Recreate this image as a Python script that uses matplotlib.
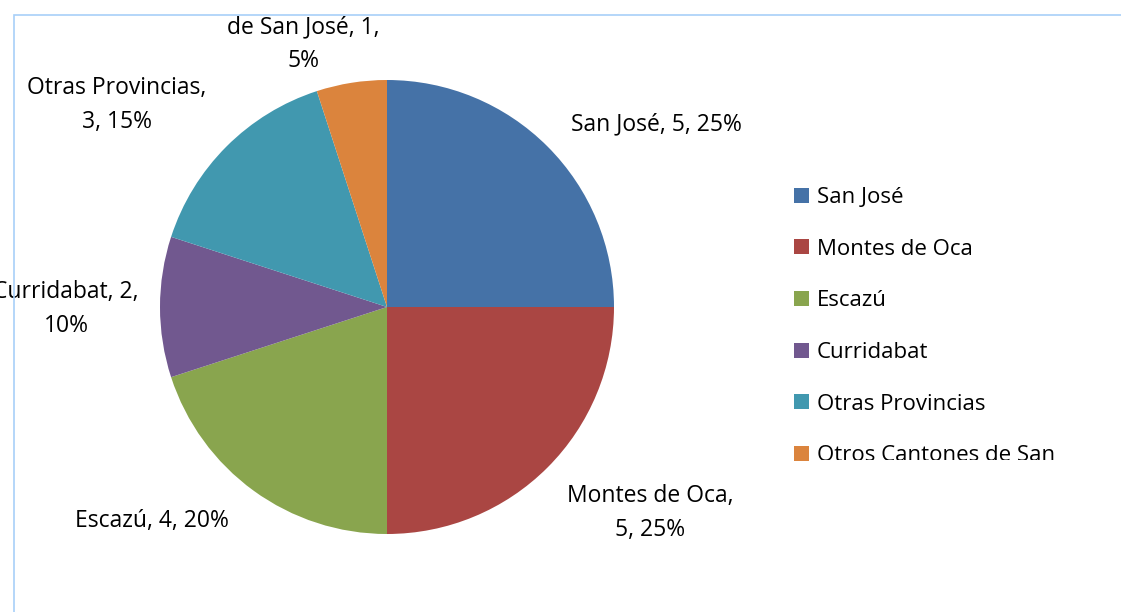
import matplotlib.pyplot as plt
from matplotlib.transforms import Bbox
from matplotlib.patches import Rectangle

# data
categories = ["San José", "Montes de Oca", "Escazú", "Curridabat",
              "Otras Provincias", "Otros Cantones de San José"]
values = [5, 5, 4, 2, 3, 1]
percents = [25, 25, 20, 10, 15, 5]
label_texts = ["San José, 5, 25%", "Montes de Oca,\n5, 25%", "Escazú, 4, 20%",
               "Curridabat, 2,\n10%", "Otras Provincias,\n3, 15%",
               "Otros Cantones\nde San José, 1,\n5%"]
colors = ["#4572a7", "#aa4643", "#89a54e", "#71588f", "#4198af", "#db843d"]

# label positions (in pie radius units)
label_pos = [(1.185, 0.806), (1.159, -0.907), (-1.035, -0.943),
             (-1.414, -0.009), (-1.189, 0.890), (-0.370, 1.233)]

plt.rcParams["font.family"] = ["Open Sans", "DejaVu Sans"]

W, H = 1121, 612
fig = plt.figure(figsize=(W / 100, H / 100), dpi=100)
ax = fig.add_axes([160 / W, (H - 534) / H, 454 / W, 454 / H])

wedges, _ = ax.pie(values, colors=colors, startangle=90, counterclock=False,
                   radius=1, wedgeprops=dict(linewidth=0))
ax.set_xlim(-1, 1)
ax.set_ylim(-1, 1)
ax.set_aspect("equal")
ax.axis("off")

# clip region: below chart border at top, figure edges elsewhere
clip = Bbox.from_extents(0, 0, W, H - 16)

for txt, (x, y) in zip(label_texts, label_pos):
    t = ax.text(x, y, txt, ha="center", va="center", fontsize=16.5,
                color="#000000", linespacing=1.55)
    t.set_clip_on(True)
    t.set_clip_box(clip)

# legend (the last entry is cut by the legend box, as in the original)
leg = fig.legend(wedges, categories, loc="upper left",
                 bbox_to_anchor=(783 / W, 1 - 176 / H), frameon=False,
                 fontsize=16, handlelength=0.66, handleheight=0.66,
                 handletextpad=0.35, labelspacing=1.38, borderpad=0)
leg_clip = Bbox.from_extents(700, H - 460, 1063, H)
for t in leg.get_texts():
    t.set_clip_on(True)
    t.set_clip_box(leg_clip)

# chart area border
fig.add_artist(Rectangle((14 / W, -0.1), 1.2, (H - 15) / H + 0.1,
                         transform=fig.transFigure, fill=False,
                         edgecolor="#a8d0f8", linewidth=1.2))

fig.savefig("out.png", dpi=100)
